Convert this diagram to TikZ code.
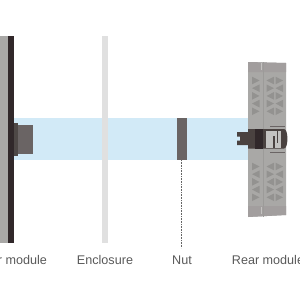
\documentclass[tikz,border=0pt]{standalone}
\usepackage{fontspec}
\setmainfont{Liberation Sans}
\usepackage{xcolor}

\definecolor{bandblue}{HTML}{D2EAF7}
\definecolor{panelgray}{HTML}{A9A8A6}
\definecolor{capgray}{HTML}{A29E9E}
\definecolor{darkbrown}{HTML}{31282A}
\definecolor{bodybrown}{HTML}{4A4240}
\definecolor{bossgray}{HTML}{6A6464}
\definecolor{bossdark}{HTML}{4E4846}
\definecolor{wallgray}{HTML}{E0E0E0}
\definecolor{ventgray}{HTML}{939290}
\definecolor{seamgray}{HTML}{9C9B99}
\definecolor{logogray}{HTML}{C4C3C1}

\begin{document}
\begin{tikzpicture}[x=1pt, y=-1pt,
    caption/.style={text=black!65, font=\fontsize{12.6}{14}\selectfont, inner sep=0pt, anchor=base},
    vent/.style={fill=ventgray}]
            \useasboundingbox (0,0) rectangle (300,300);

            % light band behind everything
            \fill[bandblue] (14,118) rectangle (248,160);

            % front module
            \fill[panelgray] (0,36) rectangle (8,243);
            \fill[darkbrown] (8,36) rectangle (14,243);
            \fill[bossdark] (14,123) rectangle (18,156);
            \fill[bossgray] (18,125) rectangle (33,153.5);

            % enclosure and nut
            \fill[wallgray] (102,36) rectangle (108,243);
            \fill[bossgray] (177,118) rectangle (187,160);
            \coordinate (N1) at (181.5,160);
            \coordinate (N2) at (181.5,248);
            \draw[black!60, densely dotted, line width=0.6pt] (N1) -- (N2);

            % rear module plate
            \fill[panelgray] (248,62) -- (286,63) -- (286,215) -- (248,217) -- cycle;
            \fill[capgray] (248,62) -- (286,63) -- (286,72) -- (248,72) -- cycle;
            \fill[capgray] (248,206) -- (286,206) -- (286,215) -- (248,217) -- cycle;
            \draw[seamgray, line width=0.5pt] (263.5,62) -- (263.5,217);
            \fill[logogray] (260.5,63) rectangle (262.2,70);
            \fill[logogray] (260.5,207) rectangle (262.2,214);

            % vents, upper and lower
            \foreach \dy in {0,86}{
                \foreach \i in {0,2,4}{
                    \fill[vent] (252,76.7+7.7*\i+\dy) -- (259.5,80.5+7.7*\i+\dy) -- (252,84.3+7.7*\i+\dy) -- cycle;
                    \fill[vent] (274,76.7+7.7*\i+\dy) -- (266.5,80.5+7.7*\i+\dy) -- (274,84.3+7.7*\i+\dy) -- cycle;
                    \fill[vent] (275.5,76.7+7.7*\i+\dy) -- (283,80.5+7.7*\i+\dy) -- (275.5,84.3+7.7*\i+\dy) -- cycle;
                }
                \foreach \i in {1,3}{
                    \fill[vent] (259.5,76.7+7.7*\i+\dy) -- (252,80.5+7.7*\i+\dy) -- (259.5,84.3+7.7*\i+\dy) -- cycle;
                    \fill[vent] (266.5,76.7+7.7*\i+\dy) -- (274,80.5+7.7*\i+\dy) -- (266.5,84.3+7.7*\i+\dy) -- cycle;
                    \fill[vent] (283,76.7+7.7*\i+\dy) -- (275.5,80.5+7.7*\i+\dy) -- (283,84.3+7.7*\i+\dy) -- cycle;
                }
            }

            % small print either side of the connector
            \fill[bossgray] (270,125.5) rectangle (285,126.8);
            \fill[bossgray] (270,151.5) rectangle (285,152.8);

            % connector on the rear module
            \fill[bodybrown] (237,132) -- (248,132) -- (248,129) -- (284,129)
                to[out=0, in=0, looseness=0.6] (284,148.5) -- (248,148.5) -- (248,145)
                -- (237,145) -- (237,140.5) -- (240,140.5) -- (240,136.5) -- (237,136.5) -- cycle;
            \fill[darkbrown] (255,129) rectangle (263,148.5);
            \fill[logogray] (266,131) rectangle (280.5,148);
            \fill[bodybrown] (272.5,136) rectangle (274.5,148);
            \fill[bodybrown] (276.5,131) rectangle (278,143);

            % labels
            \node[caption] (frontlabel) at (22.5,264) {r module};
            \node[caption] (enclosurelabel) at (105,264) {Enclosure};
            \node[caption] (nutlabel) at (182,264) {Nut};
            \node[caption] (rearlabel) at (268,264) {Rear module};
        \end{tikzpicture}
\end{document}
